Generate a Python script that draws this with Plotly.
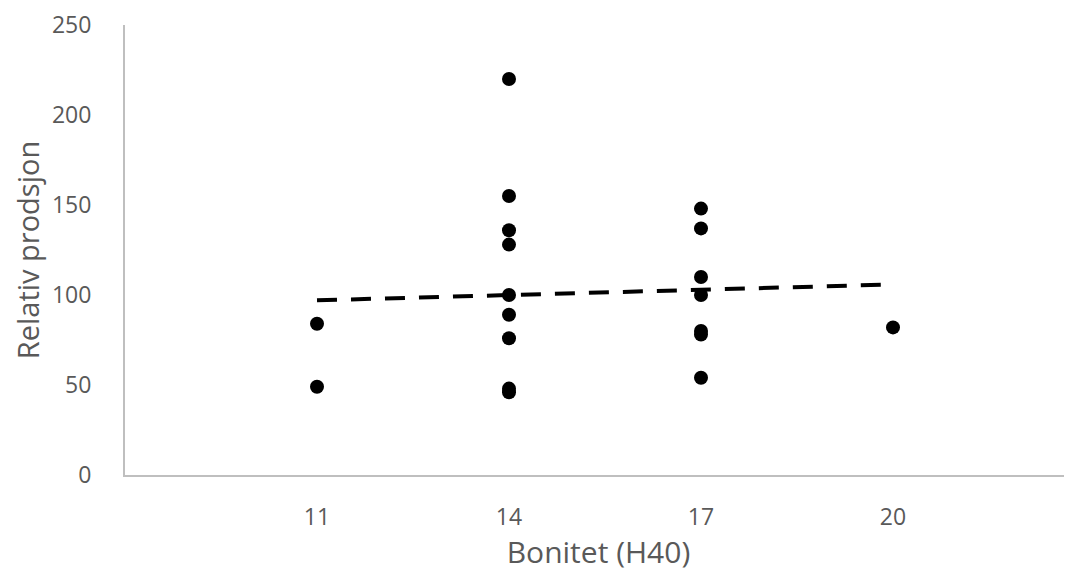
import numpy as np
import plotly.graph_objects as go

# Data
bonitet = [11, 11,
           14, 14, 14, 14, 14, 14, 14, 14, 14,
           17, 17, 17, 17, 17, 17, 17,
           20]
relativ = [84, 49,
           220, 155, 136, 128, 100, 89, 76, 48, 46,
           148, 137, 110, 100, 80, 78, 54,
           82]
x_ticks = [11, 14, 17, 20]
y_ticks = [0, 50, 100, 150, 200, 250]
x_title = "Bonitet (H40)"
y_title = "Relativ prodsjon"

# Linear trendline (least squares)
slope, intercept = np.polyfit(bonitet, relativ, 1)
tx = np.array([min(bonitet), max(bonitet)])
ty = slope * tx + intercept

fig = go.Figure()
fig.add_trace(go.Scatter(
    x=bonitet, y=relativ, mode="markers",
    marker=dict(color="black", size=14),
    showlegend=False, hoverinfo="skip"))
fig.add_trace(go.Scatter(
    x=tx, y=ty, mode="lines",
    line=dict(color="black", width=4, dash="20px,14px"),
    showlegend=False, hoverinfo="skip"))

font_family = "Open Sans, Noto Sans, sans-serif"
fig.update_layout(
    width=1064, height=564,
    margin=dict(l=117, r=0, t=17, b=97),
    plot_bgcolor="white", paper_bgcolor="white",
    font=dict(family=font_family, color="#595959"),
    xaxis=dict(
        range=[8, 8 + (1072 - 125) / 64],
        tickvals=x_ticks, ticktext=[str(v) for v in x_ticks],
        showgrid=False, zeroline=False,
        showline=True, linecolor="#bfbfbf", linewidth=2,
        ticks="", ticklabelstandoff=20,
        tickfont=dict(size=23, color="#595959"),
        title=dict(text=x_title, font=dict(size=30, color="#595959"), standoff=3),
    ),
    yaxis=dict(
        range=[0, 250],
        tickvals=y_ticks,
        showgrid=False, zeroline=False,
        showline=True, linecolor="#bfbfbf", linewidth=2,
        ticks="", ticklabelstandoff=27,
        tickfont=dict(size=23, color="#595959"),
        title=dict(text=y_title, font=dict(size=29, color="#595959"), standoff=25),
    ),
)

fig.write_html("out.html")
